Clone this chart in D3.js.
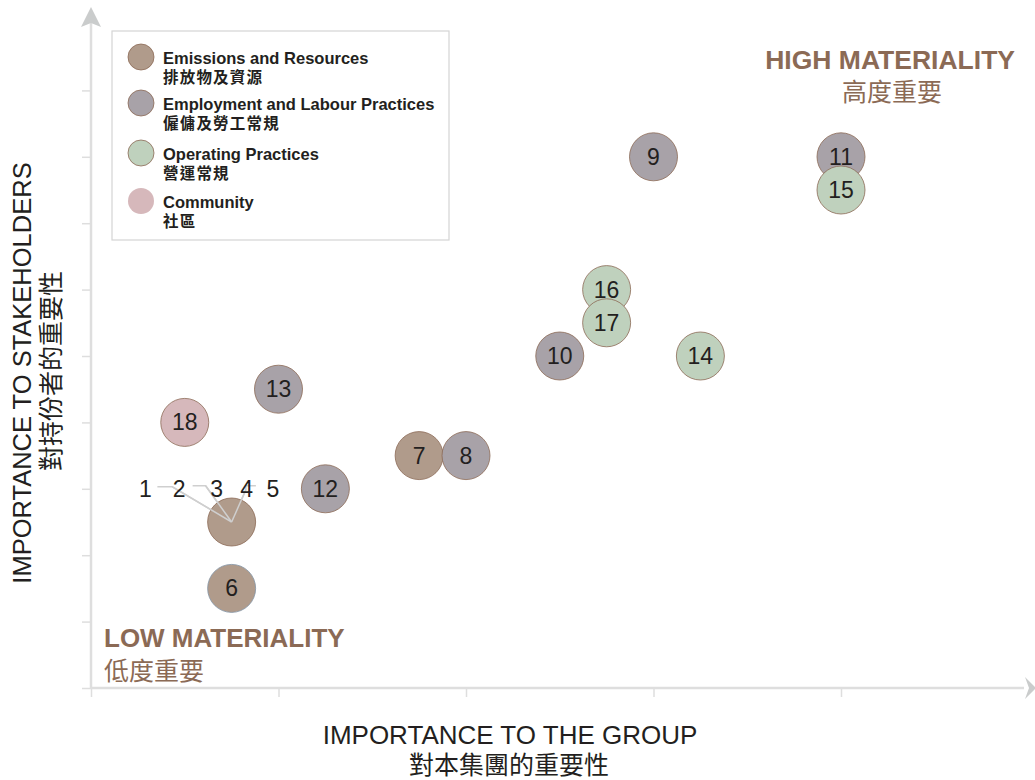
<!DOCTYPE html>
<html>
<head>
<meta charset="utf-8">
<script src="https://cdn.jsdelivr.net/npm/d3@7"></script>
<style>
  body { margin: 0; background: #fff; }
  text { font-family: "Liberation Sans", Arial, "Noto Sans CJK TC", sans-serif; }
</style>
</head>
<body>
<div id="chart"></div>
<script>
// categories
var categories = ["Emissions and Resources", "Employment and Labour Practices", "Operating Practices", "Community"];
var categoriesZh = ["排放物及資源", "僱傭及勞工常規", "營運常規", "社區"];
var categoryColors = ["#b09b8b", "#a8a2a8", "#bfd1bd", "#d6b8bb"];

// issues: id, category index, importance to group (x), importance to stakeholders (y)
var issueIds = ["6", "18", "13", "12", "7", "8", "10", "16", "17", "14", "9", "11", "15"];
var issueCats = [0, 3, 1, 1, 0, 1, 1, 2, 2, 2, 1, 1, 2];
var issueX = [0.75, 0.5, 1.0, 1.25, 1.75, 2.0, 2.5, 2.75, 2.75, 3.25, 3.0, 4.0, 4.0];
var issueY = [1.5, 4.0, 4.5, 3.0, 3.5, 3.5, 5.0, 6.0, 5.5, 5.0, 8.0, 8.0, 7.5];

// cluster of issues 1-5 sharing one bubble
var clusterIds = ["1", "2", "3", "4", "5"];
var clusterX = 0.75, clusterY = 2.5, clusterCat = 0;
var clusterLabelX = [0.29, 0.47, 0.67, 0.83, 0.97];
var clusterLabelY = 3.0;

var xTicks = [0, 1, 2, 3, 4];
var yTicks = [0, 1, 2, 3, 4, 5, 6, 7, 8, 9];

function init() {
    var w = 1035;
    var h = 780;
    var r = 24;
    var axisColor = "#dedede";
    var textColor = "#231f20";
    var brown = "#8b6a55";

    var svg = d3.select("#chart")
        .append("svg")
        .attr("width", w)
        .attr("height", h);

    var xScale = d3.scaleLinear().domain([0, 5]).range([91, 1028.5]);
    var yScale = d3.scaleLinear().domain([0, 10]).range([688, 24]);

    // axes with ticks only
    var xAxis = d3.axisBottom(xScale).tickValues(xTicks).tickSize(9).tickFormat("");
    var yAxis = d3.axisLeft(yScale).tickValues(yTicks).tickSize(9).tickFormat("");

    var gx = svg.append("g")
        .attr("transform", "translate(0," + yScale(0) + ")")
        .call(xAxis);
    var gy = svg.append("g")
        .attr("transform", "translate(" + xScale(0) + ",0)")
        .call(yAxis);
    [gx, gy].forEach(function(g) {
        g.select(".domain").remove();
        g.selectAll(".tick line").attr("stroke", axisColor).attr("stroke-width", 1.5);
    });

    // axis lines with arrows
    svg.append("line")
        .attr("x1", xScale(0)).attr("y1", yScale(0))
        .attr("x2", 1024).attr("y2", yScale(0))
        .attr("stroke", axisColor).attr("stroke-width", 2.5);
    svg.append("line")
        .attr("x1", xScale(0)).attr("y1", yScale(0))
        .attr("x2", xScale(0)).attr("y2", 20)
        .attr("stroke", axisColor).attr("stroke-width", 2.5);
    var x0 = xScale(0), y0 = yScale(0);
    svg.append("path")
        .attr("d", "M" + x0 + ",7 L" + (x0 + 10) + ",27 L" + x0 + ",23 L" + (x0 - 10) + ",27 Z")
        .attr("fill", "#cacccc");
    svg.append("path")
        .attr("d", "M1036," + y0 + " L1025," + (y0 - 11) + " L1029," + y0 + " L1025," + (y0 + 11) + " Z")
        .attr("fill", "#cacccc");

    // axis titles
    svg.append("text")
        .attr("x", 510).attr("y", 744)
        .attr("text-anchor", "middle")
        .attr("font-size", "26px")
        .attr("fill", textColor)
        .text("IMPORTANCE TO THE GROUP");
    svg.append("text")
        .attr("x", 509).attr("y", 774)
        .attr("text-anchor", "middle")
        .attr("font-size", "25px")
        .attr("fill", textColor)
        .text("對本集團的重要性");
    svg.append("text")
        .attr("transform", "translate(31,373) rotate(-90)")
        .attr("text-anchor", "middle")
        .attr("font-size", "25.5px")
        .attr("fill", textColor)
        .text("IMPORTANCE TO STAKEHOLDERS");
    svg.append("text")
        .attr("transform", "translate(60,371) rotate(-90)")
        .attr("text-anchor", "middle")
        .attr("font-size", "25px")
        .attr("fill", textColor)
        .text("對持份者的重要性");

    // materiality labels
    svg.append("text")
        .attr("x", 1015).attr("y", 69)
        .attr("text-anchor", "end")
        .attr("font-size", "26.5px").attr("font-weight", "bold")
        .attr("fill", brown)
        .text("HIGH MATERIALITY");
    svg.append("text")
        .attr("x", 892).attr("y", 101)
        .attr("text-anchor", "middle")
        .attr("font-size", "25px")
        .attr("fill", brown)
        .text("高度重要");
    svg.append("text")
        .attr("x", 104).attr("y", 647)
        .attr("font-size", "26px").attr("font-weight", "bold")
        .attr("fill", brown)
        .text("LOW MATERIALITY");
    svg.append("text")
        .attr("x", 104).attr("y", 680)
        .attr("font-size", "25px")
        .attr("fill", brown)
        .text("低度重要");

    // legend
    var legend = svg.append("g").attr("transform", "translate(112,31)");
    legend.append("rect")
        .attr("width", 337).attr("height", 209)
        .attr("fill", "#fff")
        .attr("stroke", "#d4d4d4").attr("stroke-width", 1.2);
    var rowY = [23, 69, 119, 167];
    categories.forEach(function(c, i) {
        var row = legend.append("g").attr("transform", "translate(0," + rowY[i] + ")");
        row.append("circle")
            .attr("cx", 29).attr("cy", 3).attr("r", 13)
            .attr("fill", categoryColors[i])
            .attr("stroke", i == 3 ? "none" : brown).attr("stroke-width", 0.8);
        row.append("text")
            .attr("x", 51).attr("y", 10)
            .attr("font-size", "16.5px").attr("font-weight", "bold")
            .attr("fill", textColor)
            .text(c);
        row.append("text")
            .attr("x", 51).attr("y", 29)
            .attr("font-size", "15.5px").attr("font-weight", "bold")
            .attr("letter-spacing", "1.2px")
            .attr("fill", textColor)
            .text(categoriesZh[i]);
    });

    // cluster 1-5 leader lines
    var cx = xScale(clusterX), cy = yScale(clusterY);
    var ly = yScale(clusterLabelY);
    var leaders = clusterIds.map(function(id, i) {
        var lx = xScale(clusterLabelX[i]);
        if (i == 0) return [[lx + 12, ly - 2], [lx + 27, ly - 2], [cx, cy]];
        if (i == 2) return [[lx - 24, ly - 3], [lx - 11, ly - 3], [cx, cy]];
        if (i == 4) return [[lx - 17, ly - 3], [lx - 27, ly - 3], [lx - 27, ly + 1], [cx, cy]];
        return null;
    }).filter(function(d) { return d; });
    svg.selectAll(".leader")
        .data(leaders)
        .enter().append("path")
        .attr("class", "leader")
        .attr("d", d3.line())
        .attr("fill", "none")
        .attr("stroke", "#cfcfcf").attr("stroke-width", 1.5);

    svg.append("circle")
        .attr("cx", cx).attr("cy", cy).attr("r", r)
        .attr("fill", categoryColors[clusterCat])
        .attr("stroke", brown).attr("stroke-width", 0.8);
    // redraw leader ends on top of the bubble
    svg.selectAll(".leaderTop")
        .data(leaders)
        .enter().append("path")
        .attr("class", "leaderTop")
        .attr("d", function(d) { return d3.line()(d.slice(-2)); })
        .attr("fill", "none")
        .attr("stroke", "#cfcfcf").attr("stroke-width", 1.5);

    svg.selectAll(".clusterLabel")
        .data(clusterIds)
        .enter().append("text")
        .attr("class", "clusterLabel")
        .attr("x", function(d, i) { return xScale(clusterLabelX[i]); })
        .attr("y", ly + 8)
        .attr("text-anchor", "middle")
        .attr("font-size", "23px")
        .attr("fill", textColor)
        .text(function(d) { return d; });

    // bubbles
    var issues = issueIds.map(function(id, i) {
        return { id: id, cat: issueCats[i], x: issueX[i], y: issueY[i] };
    });
    var g = svg.selectAll(".issue")
        .data(issues)
        .enter().append("g")
        .attr("class", "issue")
        .attr("transform", function(d) { return "translate(" + xScale(d.x) + "," + yScale(d.y) + ")"; });
    g.append("circle")
        .attr("r", r)
        .attr("fill", function(d) { return categoryColors[d.cat]; })
        .attr("stroke", function(d) { return d.id == "6" ? "#8193a4" : brown; })
        .attr("stroke-width", 0.8);
    g.append("text")
        .attr("y", 8)
        .attr("text-anchor", "middle")
        .attr("font-size", "23px")
        .attr("fill", textColor)
        .text(function(d) { return d.id; });
}
window.onload = init;
</script>
</body>
</html>
